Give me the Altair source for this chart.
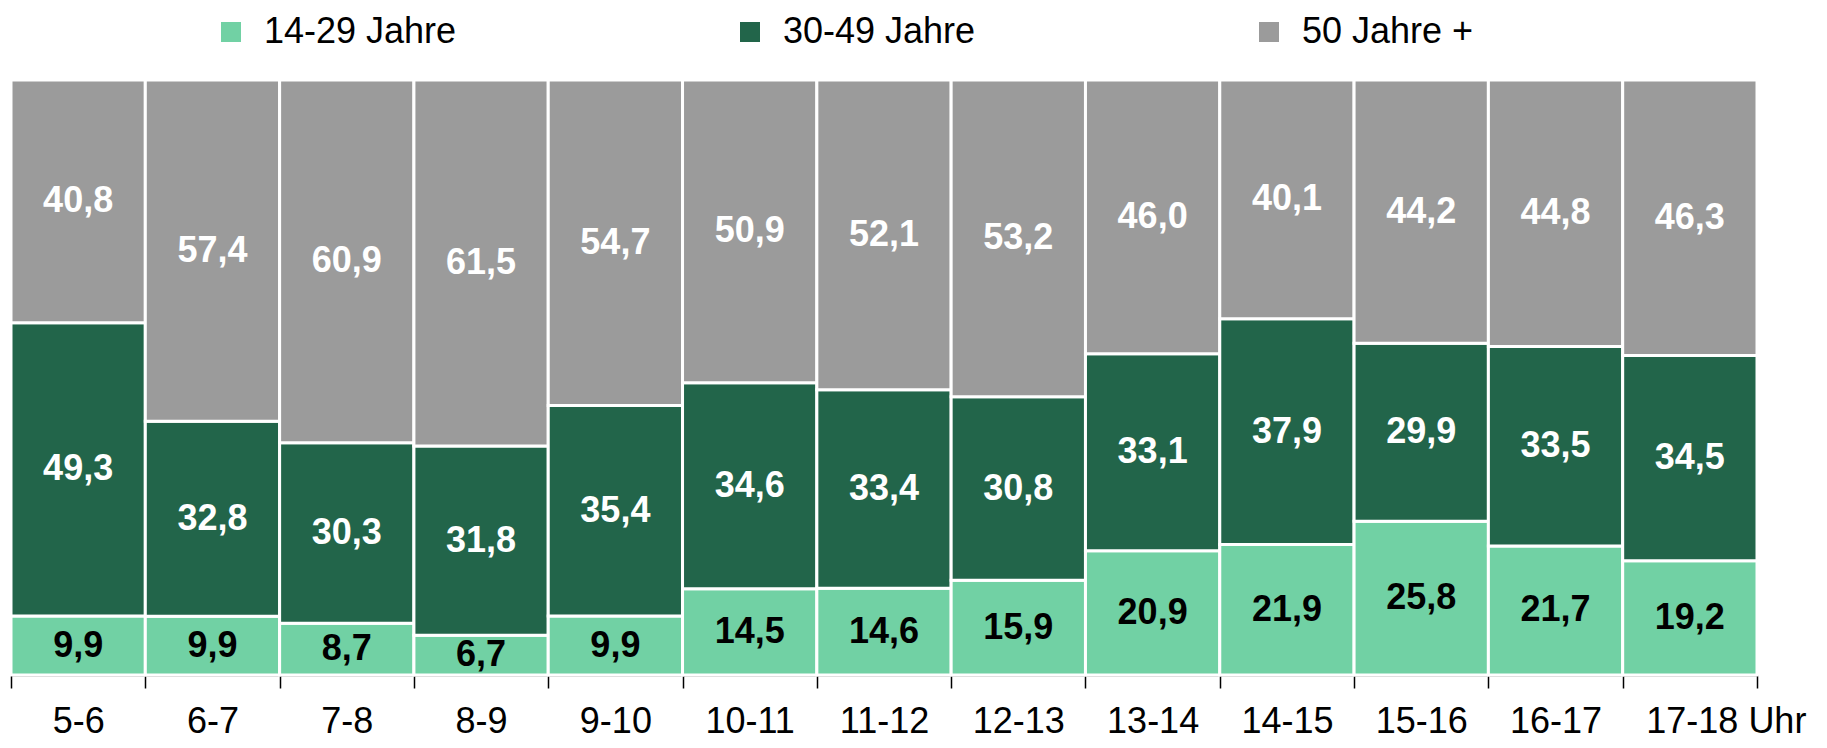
import altair as alt
import pandas as pd

slots = ["5-6", "6-7", "7-8", "8-9", "9-10", "10-11", "11-12", "12-13",
         "13-14", "14-15", "15-16", "16-17", "17-18"]
groups = ["14-29 Jahre", "30-49 Jahre", "50 Jahre +"]
young = [9.9, 9.9, 8.7, 6.7, 9.9, 14.5, 14.6, 15.9, 20.9, 21.9, 25.8, 21.7, 19.2]
middle = [49.3, 32.8, 30.3, 31.8, 35.4, 34.6, 33.4, 30.8, 33.1, 37.9, 29.9, 33.5, 34.5]
older = [40.8, 57.4, 60.9, 61.5, 54.7, 50.9, 52.1, 53.2, 46.0, 40.1, 44.2, 44.8, 46.3]
colors = ["#71D1A4", "#22654A", "#9B9B9B"]

rows = []
for i, s in enumerate(slots):
    for k, (g, series) in enumerate(zip(groups, [young, middle, older])):
        v = series[i]
        rows.append({"slot": s, "group": g, "order": k, "value": v,
                     "label": f"{v:.1f}".replace(".", ",")})
df = pd.DataFrame(rows)

FONT = "Liberation Sans"

base = alt.Chart(df).transform_stack(
    stack="value", groupby=["slot"], sort=[alt.SortField("order")],
    as_=["y0", "y1"], offset="normalize"
).transform_calculate(ymid="(datum.y0 + datum.y1) / 2")

x_enc = alt.X(
    "slot:N", sort=slots, title=None,
    scale=alt.Scale(paddingInner=0, paddingOuter=0),
    axis=alt.Axis(
        labelAngle=0, labelFont=FONT, labelFontSize=36, labelColor="black",
        domainColor="black", domainWidth=1.5, tickColor="black", tickWidth=1.5,
        tickSize=13, tickBand="extent", labelPadding=16, grid=False,
        labelExpr="datum.value == '17-18' ? '17-18 Uhr' : datum.label",
        labelOffset={"condition": {"test": "datum.value == '17-18'", "value": 36}, "value": 0},
    ),
)

bars = base.mark_bar(stroke="white", strokeWidth=3).encode(
    x=x_enc,
    y=alt.Y("y0:Q", axis=None, scale=alt.Scale(domain=[0, 1], nice=False)),
    y2="y1:Q",
    color=alt.Color(
        "group:N",
        scale=alt.Scale(domain=groups, range=colors),
        legend=alt.Legend(
            title=None, orient="none", direction="horizontal", columns=3,
            legendX=202, legendY=-66, columnPadding=275, padding=0,
            symbolType="square", symbolSize=400, symbolStrokeWidth=0,
            labelFont=FONT, labelFontSize=36, labelColor="black",
            labelOffset=15, symbolOpacity=1, labelLimit=400,
        ),
    ),
)

texts = base.mark_text(font=FONT, fontSize=36, fontWeight="bold").encode(
    x=alt.X("slot:N", sort=slots),
    y=alt.Y("ymid:Q"),
    text="label:N",
    color=alt.condition(alt.datum.group == "14-29 Jahre",
                        alt.value("black"), alt.value("white")),
)

chart = alt.layer(bars, texts).properties(
    width=1746, height=595,
    padding={"left": 3, "top": 72, "right": 62, "bottom": 65},
    autosize=alt.AutoSizeParams(type="none"),
).configure_view(strokeWidth=0).configure(background="white")

chart.save("out.html", embed_options={"renderer": "svg", "actions": False})
